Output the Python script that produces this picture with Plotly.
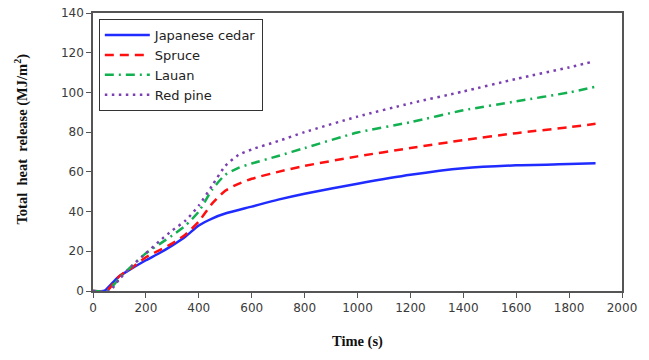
import plotly.graph_objects as go

time_cedar = [0, 40, 50, 80, 100, 130, 200, 250, 300, 350, 400, 450, 500, 600, 700, 800, 1000, 1200, 1400, 1600, 1800, 1900]
thr_cedar = [0, 0, 0.8, 5, 7.5, 10, 15.5, 19, 23, 27.5, 33, 36.5, 39, 42.5, 46, 49, 54, 58.5, 61.8, 63.3, 63.9, 64.3]

time_spruce = [0, 50, 60, 100, 150, 200, 250, 300, 350, 400, 450, 500, 550, 600, 700, 800, 1000, 1200, 1400, 1600, 1800, 1900]
thr_spruce = [0, 0, 1, 7.5, 12, 17, 20.5, 24, 28.5, 35, 44, 50.5, 54, 56.5, 60, 63, 67.8, 72, 76, 79.5, 82.5, 84.2]

time_lauan = [0, 55, 65, 100, 150, 200, 250, 300, 350, 400, 450, 500, 550, 600, 700, 800, 1000, 1200, 1400, 1600, 1800, 1900]
thr_lauan = [0, 0, 1, 6.5, 13, 19, 23.5, 28, 33, 40, 51, 58.5, 62, 64.2, 68, 72, 79.8, 85, 91, 95.5, 100, 102.9]

time_pine = [0, 65, 80, 100, 150, 200, 250, 300, 350, 400, 450, 500, 550, 600, 700, 800, 1000, 1200, 1400, 1600, 1800, 1880]
thr_pine = [0, 0, 2.5, 6, 13, 19, 25, 30.5, 35.5, 43, 53, 63, 68.5, 71.3, 75.5, 80, 87.8, 94.5, 100.5, 106.8, 112.6, 115.2]

series_names = ["Japanese cedar", "Spruce", "Lauan", "Red pine"]
x_ticks = [0, 200, 400, 600, 800, 1000, 1200, 1400, 1600, 1800, 2000]
y_ticks = [0, 20, 40, 60, 80, 100, 120, 140]
x_title = "Time (s)"
y_title = "Total  heat  release (MJ/m<sup>2</sup>)"

styles = [
    dict(color="#1f2bff", dash="solid"),
    dict(color="#ff1010", dash="9px,6px"),
    dict(color="#12b050", dash="9px,5px,2px,5px"),
    dict(color="#7a3fb0", dash="2.5px,4.5px"),
]

fig = go.Figure()
for name, xs, ys, st in zip(series_names,
                            [time_cedar, time_spruce, time_lauan, time_pine],
                            [thr_cedar, thr_spruce, thr_lauan, thr_pine], styles):
    fig.add_trace(go.Scatter(x=xs, y=ys, mode="lines", name=name,
                             line=dict(color=st["color"], dash=st["dash"], width=2.5, shape="spline", smoothing=0.6)))

axis_common = dict(showgrid=False, zeroline=False, showline=True, linecolor="#555555", linewidth=1.5,
                   mirror=True, ticks="outside", ticklen=5, tickcolor="#555555", automargin=False,
                   ticklabeloverflow="allow",
                   tickfont=dict(family="DejaVu Sans", size=12, color="#3a3a3a"))

title_font = dict(family="Liberation Serif", size=14.5, color="#111111", weight="bold")

fig.update_layout(
    width=649, height=360,
    margin=dict(l=93, r=27, t=13, b=69),
    paper_bgcolor="white", plot_bgcolor="white",
    showlegend=True,
    legend=dict(x=0.011, y=0.978, xanchor="left", yanchor="top",
                bordercolor="#333333", borderwidth=1, bgcolor="white",
                font=dict(family="DejaVu Sans", size=13, color="#222222"),
                tracegroupgap=0, itemwidth=45),
    xaxis=dict(range=[0, 2000], tickvals=x_ticks, ticktext=[str(v) for v in x_ticks],
               title=dict(text=x_title, font=title_font, standoff=22),
               **axis_common),
    yaxis=dict(range=[0, 140], tickvals=y_ticks, ticktext=[str(v) for v in y_ticks],
               **axis_common),
    annotations=[dict(text=y_title, textangle=-90, xref="paper", yref="paper",
                      x=-0.135, y=0.547, xanchor="center", yanchor="middle",
                      showarrow=False, font=title_font)],
)

# remove the browser's default 8px body margin so the figure fills the window exactly
fig.write_html("out.html", config={"displayModeBar": False},
               post_script="document.body.style.margin='0';")
